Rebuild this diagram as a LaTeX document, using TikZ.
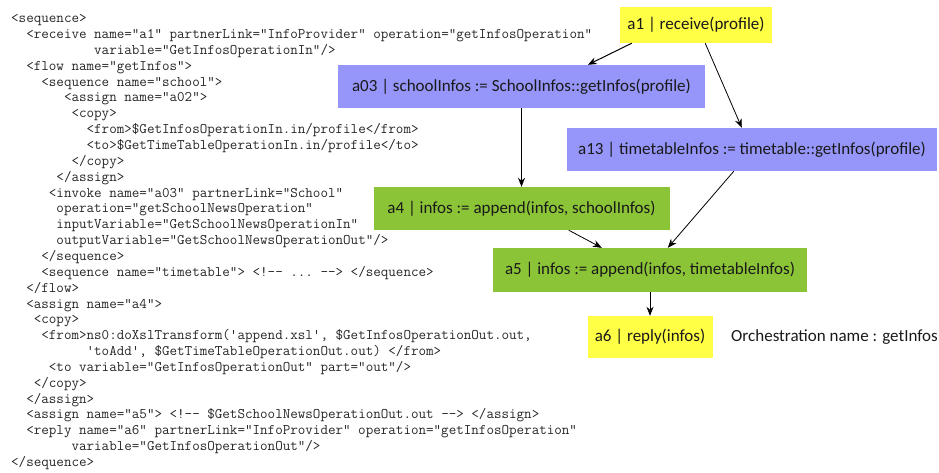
\documentclass[tikz,border=0pt]{standalone}
\usepackage{fontspec}
\usepackage{tikz}
\usetikzlibrary{arrows.meta,positioning,matrix}
\newfontfamily\boxfont{Carlito}
\definecolor{receivecolor}{RGB}{255,255,70}
\definecolor{invokecolor}{RGB}{150,150,250}
\definecolor{assigncolor}{RGB}{140,196,56}

\begin{document}
\begin{tikzpicture}[
    x=1pt, y=-1pt,
    codeline/.style={anchor=west, inner sep=0pt, text height=11pt, text depth=4pt, text=black!85,
        font=\ttfamily\fontsize{14.65}{16}\selectfont\frenchspacing},
    activity/.style={minimum height=43pt, inner sep=0pt, text centered, text=black!90,
        font=\boxfont\fontsize{17}{20}\selectfont},
    receivebox/.style={activity, fill=receivecolor},
    invokebox/.style={activity, fill=invokecolor},
    assignbox/.style={activity, fill=assigncolor},
    flow/.style={-{Stealth[length=9pt, width=7pt]}, line width=0.8pt}
]

\useasboundingbox (0,0) rectangle (939,473);

% BPEL source
\matrix (code) [matrix of nodes, nodes={codeline}, row sep=0.85pt, inner sep=0pt, anchor=north west] at (11,11.5) {
<sequence>\\
~~<receive name="a1" partnerLink="InfoProvider" operation="getInfosOperation"\\
~~~~~~~~~~~variable="GetInfosOperationIn"/>\\
~~<flow name="getInfos">\\
~~~~<sequence name="school">\\
~~~~~~~<assign name="a02">\\
~~~~~~~~<copy>\\
~~~~~~~~~~<from>\$GetInfosOperationIn.in/profile</from>\\
~~~~~~~~~~<to>\$GetTimeTableOperationIn.in/profile</to>\\
~~~~~~~~</copy>\\
~~~~~~</assign>\\
~~~~~<invoke name="a03" partnerLink="School"\\
~~~~~~operation="getSchoolNewsOperation"\\
~~~~~~inputVariable="GetSchoolNewsOperationIn"\\
~~~~~~outputVariable="GetSchoolNewsOperationOut"/>\\
~~~~</sequence>\\
~~~~<sequence name="timetable"> <!-- ... --> </sequence>\\
~~</flow>\\
~~<assign name="a4">\\
~~~<copy>\\
~~~~<from>ns0:doXslTransform('append.xsl', \$GetInfosOperationOut.out,\\
~~~~~~~~~~'toAdd', \$GetTimeTableOperationOut.out) </from>\\
~~~~~<to variable="GetInfosOperationOut" part="out"/>\\
~~~</copy>\\
~~</assign>\\
~~<assign name="a5"> <!-- \$GetSchoolNewsOperationOut.out --> </assign>\\
~~<reply name="a6" partnerLink="InfoProvider" operation="getInfosOperation"\\
~~~~~~~~variable="GetInfosOperationOut"/>\\
</sequence>\\
};

% Orchestration activities
\node[receivebox, minimum width=152pt, minimum height=36pt] (a1) at (696,25) {a1 | receive(profile)};
\node[invokebox, minimum width=367pt] (a03) at (521.5,86.5) {a03 | schoolInfos := SchoolInfos::getInfos(profile)};
\node[invokebox, minimum width=370pt] (a13) at (752,149.5) {a13 | timetableInfos := timetable::getInfos(profile)};
\node[assignbox, minimum width=296pt] (a4) at (521.5,208.5) {a4 | infos := append(infos, schoolInfos)};
\node[assignbox, minimum width=314pt, minimum height=44pt] (a5) at (650,270) {a5 | infos := append(infos, timetableInfos)};
\node[receivebox, minimum width=125pt, minimum height=42pt] (a6) at (650,337) {a6 | reply(infos)};

\node[right=15pt of a6, font=\boxfont\fontsize{17}{20}\selectfont, text=black!90] (orchname) {Orchestration name : getInfos};

% Control links
\draw[flow, line width=1pt] ([xshift=12pt]a1.south west) -- ([xshift=250pt]a03.north west);
\draw[flow] ([xshift=-67pt]a1.south east) -- ([xshift=175pt]a13.north west);
\draw[flow, line width=1.2pt] (a03.south) -- (a4.north);
\draw[flow] ([xshift=-101pt]a4.south east) -- ([xshift=109pt]a5.north west);
\draw[flow] ([xshift=167pt]a13.south west) -- ([xshift=175pt]a5.north west);
\draw[flow] (a5.south) -- (a6.north);

\end{tikzpicture}
\end{document}
